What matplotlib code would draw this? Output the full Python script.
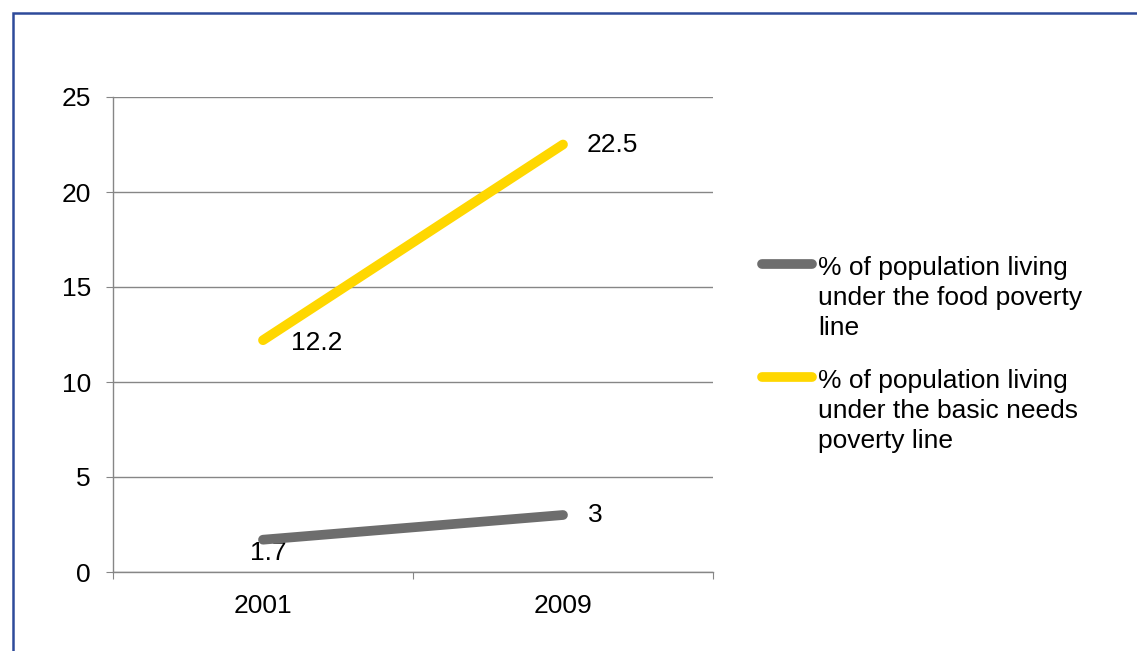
import matplotlib
matplotlib.use("Agg")
import matplotlib.pyplot as plt
from matplotlib.lines import Line2D
from matplotlib.patches import Rectangle

years = ["2001", "2009"]
food = [1.7, 3]
basic = [12.2, 22.5]
series_labels = ["% of population living\nunder the food poverty\nline",
                 "% of population living\nunder the basic needs\npoverty line"]
colors = ["#6D6D6D", "#FFD700"]
yticks = [0, 5, 10, 15, 20, 25]

plt.rcParams['font.family'] = ['Liberation Sans', 'DejaVu Sans']
fig = plt.figure(figsize=(11.37, 6.51), dpi=100)
fig.patches.append(Rectangle((13/1137, -0.1), 1.2, 1 - 13/651 + 0.1, transform=fig.transFigure,
                             fill=False, edgecolor="#2E4A9A", linewidth=1.8))
ax = fig.add_axes([113/1137, 1 - 572/651, 600/1137, 475/651])

x = list(range(len(years)))
lw = 7
ax.plot(x, food, color=colors[0], lw=lw, solid_capstyle='round', zorder=3)
ax.plot(x, basic, color=colors[1], lw=lw, solid_capstyle='round', zorder=3)

fs = 19
ax.annotate(f"{food[0]:g}", (x[0], food[0]), xytext=(4, -1), textcoords='offset points',
            ha='center', va='top', fontsize=fs, zorder=2)
ax.annotate(f"{food[1]:g}", (x[1], food[1]), xytext=(18, 0), textcoords='offset points',
            ha='left', va='center', fontsize=fs)
ax.annotate(f"{basic[0]:g}", (x[0], basic[0]), xytext=(20, -2), textcoords='offset points',
            ha='left', va='center', fontsize=fs)
ax.annotate(f"{basic[1]:g}", (x[1], basic[1]), xytext=(17, 0), textcoords='offset points',
            ha='left', va='center', fontsize=fs)

ax.set_xlim(-0.5, 1.5)
ax.set_ylim(0, 25)
ax.set_yticks(yticks)
ax.set_yticklabels([str(v) for v in yticks], fontsize=fs)
ax.set_xticks([-0.5, 0.5, 1.5])
ax.set_xticklabels([])
ax.set_xticks(x, minor=True)
ax.set_xticklabels(years, minor=True, fontsize=fs)
ax.tick_params(axis='x', which='minor', length=0, pad=16)
ax.tick_params(axis='x', which='major', length=5, color="#868686", direction='out')
ax.tick_params(axis='y', length=5, color="#868686", direction='out', pad=11)
ax.grid(axis='y', color="#868686", lw=1)
for s in ['top', 'right']:
    ax.spines[s].set_visible(False)
for s in ['left', 'bottom']:
    ax.spines[s].set_color("#868686")
    ax.spines[s].set_linewidth(1)
ax.set_axisbelow(True)

# legend
for i, (lab, c) in enumerate(zip(series_labels, colors)):
    y_line = 1 - (264 + i * 113) / 651
    fig.add_artist(Line2D([762/1137, 812/1137], [y_line, y_line], transform=fig.transFigure,
                          color=c, lw=lw, solid_capstyle='round'))
    fig.text(818/1137, y_line + 8/651, lab, fontsize=fs, va='top', ha='left', linespacing=1.32)

fig.savefig("out.png", dpi=100)
